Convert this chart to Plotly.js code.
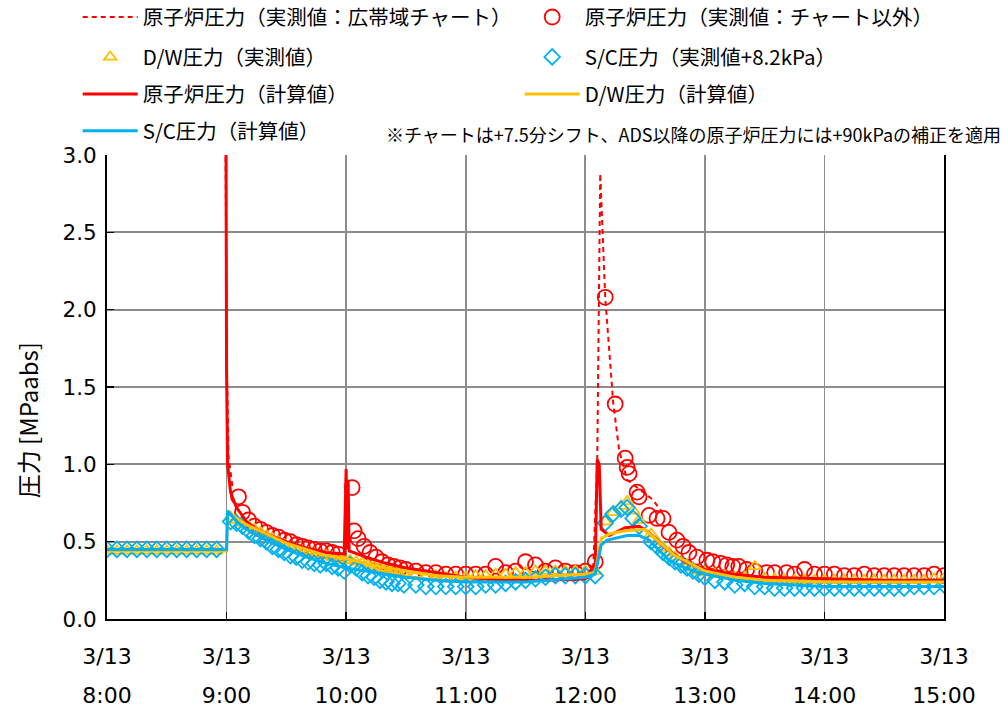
<!DOCTYPE html>
<html>
<head>
<meta charset="utf-8">
<script src="https://cdn.plot.ly/plotly-3.0.1.min.js"></script>
<style>
  html, body { margin: 0; padding: 0; background: #ffffff; }
  #chart { width: 1008px; height: 711px; }
</style>
</head>
<body>
<div id="chart"></div>
<script>
// ---- axis ticks ----
const hourTicks  = ['08:00','09:00','10:00','11:00','12:00','13:00','14:00','15:00'];
const dateLabels = ['3/13','3/13','3/13','3/13','3/13','3/13','3/13','3/13'];
const timeLabels = ['8:00','9:00','10:00','11:00','12:00','13:00','14:00','15:00'];

// ---- reactor pressure, wide-range chart (MPa abs) ----
const tChart = ['08:58','09:00','09:01','09:03','09:04',
                '12:04','12:06','12:07:30','12:10','12:14','12:17','12:21','12:34','12:38'];
const rxChart = [7.0, 1.75, 1.05, 0.85, null,
                 0.33, 1.03, 2.88, 2.08, 1.40, 1.09, 0.90, 0.77, 0.70];

// ---- reactor pressure, other records (MPa abs) ----
const tRxMeas = ['09:06','09:08','09:11','09:14','09:17','09:20','09:23','09:26','09:29','09:32',
                 '09:35','09:38','09:41','09:44','09:47','09:50','09:53','09:56',
                 '10:03','10:04','10:06','10:09','10:12','10:15','10:18','10:21','10:24','10:27','10:30',
                 '10:35','10:40','10:45','10:50','10:55','11:00','11:05','11:10','11:15','11:20',
                 '11:25','11:30','11:35','11:40','11:45','11:50','11:55','12:00','12:05',
                 '12:10','12:15','12:20','12:21','12:22','12:26','12:27','12:32','12:36','12:39',
                 '12:42','12:46','12:49','12:52','12:56','13:01','13:04','13:08','13:11','13:14',
                 '13:17','13:21','13:25','13:31','13:35','13:41','13:45','13:50','13:55','14:00',
                 '14:05','14:10','14:15','14:20','14:25','14:30','14:35','14:40','14:45','14:50',
                 '14:55','15:00'];
const rxMeas = [0.79,0.69,0.64,0.60,0.58,0.56,0.54,0.53,0.51,0.50,
                0.48,0.47,0.46,0.45,0.44,0.44,0.43,0.42,
                0.85,0.57,0.52,0.47,0.43,0.40,0.37,0.35,0.34,0.33,0.32,
                0.31,0.30,0.30,0.29,0.29,0.29,0.29,0.29,0.34,0.30,
                0.31,0.37,0.35,0.31,0.33,0.31,0.30,0.31,0.37,
                2.08,1.39,1.04,0.98,0.94,0.82,0.79,0.67,0.65,0.65,
                0.56,0.51,0.47,0.43,0.40,0.38,0.37,0.36,0.35,0.34,
                0.34,0.32,0.31,0.30,0.30,0.30,0.29,0.32,0.29,0.29,
                0.29,0.28,0.28,0.29,0.28,0.28,0.28,0.28,0.28,0.28,
                0.29,0.28];

// ---- D/W and S/C measured (same sampling times) ----
const tPcv = ['08:00','08:05','08:10','08:15','08:20','08:25','08:30','08:35','08:40','08:45','08:50','08:55',
              '09:02','09:05','09:08','09:11','09:14','09:17','09:20','09:23','09:26','09:29',
              '09:32','09:35','09:38','09:41','09:44','09:47','09:50','09:53','09:56','09:59',
              '10:02','10:05','10:08','10:11','10:14','10:17','10:20','10:23','10:26','10:29',
              '10:35','10:40','10:45','10:50','10:55','11:00','11:05','11:10','11:15','11:20',
              '11:25','11:30','11:35','11:40','11:45','11:50','11:55','12:00','12:05',
              '12:10','12:14','12:18','12:21','12:24','12:27','12:33','12:36','12:39','12:42',
              '12:45','12:48','12:51','12:54','12:57',
              '13:00','13:05','13:10','13:15','13:20','13:25','13:30','13:35','13:40','13:45',
              '13:50','13:55','14:00','14:05','14:10','14:15','14:20','14:25','14:30','14:35',
              '14:40','14:45','14:50','14:55','15:00'];
const dwMeas = [0.44,0.44,0.44,0.44,0.44,0.44,0.44,0.44,0.44,0.44,0.44,0.44,
                0.66,0.64,0.62,0.60,0.58,0.56,0.54,0.52,0.50,0.48,
                0.46,0.45,0.44,0.43,0.42,0.41,0.41,0.40,0.39,0.38,
                0.38,0.37,0.36,0.35,0.34,0.33,0.32,0.31,0.30,0.30,
                0.29,0.28,0.28,0.27,0.27,0.27,0.28,0.28,0.29,0.29,
                0.30,0.30,0.31,0.31,0.31,0.31,0.31,0.31,0.31,
                0.63,0.69,0.73,0.76,0.70,0.64,0.55,0.50,0.46,0.43,
                0.40,0.37,0.35,0.33,0.31,
                0.30,0.29,0.28,0.27,0.27,0.34,0.26,0.26,0.25,0.25,
                0.25,0.25,0.25,0.25,0.25,0.25,0.25,0.25,0.25,0.25,
                0.25,0.25,0.25,0.26,0.26];
const scMeas = [0.45,0.45,0.45,0.45,0.45,0.45,0.45,0.45,0.45,0.45,0.45,0.45,
                0.63,0.62,0.60,0.57,0.54,0.52,0.50,0.47,0.45,0.43,
                0.41,0.40,0.38,0.37,0.36,0.35,0.36,0.34,0.33,0.31,
                0.35,0.33,0.30,0.28,0.27,0.25,0.24,0.23,0.23,0.22,
                0.22,0.21,0.21,0.21,0.21,0.21,0.21,0.22,0.22,0.23,
                0.24,0.25,0.26,0.27,0.28,0.28,0.28,0.28,0.28,
                0.62,0.68,0.71,0.72,0.65,0.60,0.50,0.47,0.43,0.40,
                0.37,0.35,0.33,0.31,0.29,
                0.27,0.25,0.24,0.22,0.23,0.21,0.21,0.20,0.20,0.20,
                0.20,0.20,0.20,0.20,0.20,0.20,0.20,0.20,0.20,0.20,
                0.20,0.21,0.21,0.21,0.22];

// ---- calculated ----
const tRxCalc = ['08:00','08:59','09:00','09:00:30','09:02','09:05','09:10','09:15','09:20','09:30',
                 '09:40','09:50','09:59','10:00','10:00:30','10:01','10:01:30','10:10','10:20','10:30',
                 '10:45','11:00','11:20','11:40','12:00','12:05','12:06','12:07','12:08','12:12',
                 '12:20','12:27','12:32','12:40','12:50','13:00','13:15','13:30','14:00','14:30','15:00'];
const rxCalc = [7.0,7.0,1.6,1.0,0.82,0.72,0.63,0.58,0.55,0.50,
                0.46,0.43,0.42,0.97,0.45,0.90,0.44,0.40,0.36,0.33,
                0.30,0.27,0.25,0.25,0.26,0.36,1.03,1.00,0.58,0.54,
                0.59,0.60,0.56,0.46,0.37,0.32,0.29,0.27,0.26,0.25,0.25];

const tDwCalc = ['08:00','09:00','09:00:30','09:05','09:10','09:20','09:30','09:40','09:50','10:00',
                 '10:10','10:20','10:30','10:45','11:00','11:30','12:00','12:05','12:08','12:12',
                 '12:20','12:30','12:35','12:45','13:00','13:15','13:30','14:00','15:00'];
const dwCalc = [0.44,0.44,0.69,0.65,0.61,0.55,0.49,0.45,0.41,0.39,
                0.36,0.33,0.31,0.28,0.27,0.27,0.29,0.30,0.52,0.55,
                0.57,0.58,0.52,0.41,0.31,0.27,0.25,0.24,0.24];

const tScCalc = ['08:00','09:00','09:00:30','09:05','09:10','09:20','09:30','09:40','09:50','10:00',
                 '10:10','10:20','10:30','10:45','11:00','11:30','12:00','12:05','12:08','12:11',
                 '12:21','12:27','12:32','12:42','12:50','12:57','13:15','13:30','14:00','15:00'];
const scCalc = [0.45,0.45,0.70,0.63,0.58,0.51,0.45,0.40,0.36,0.33,
                0.31,0.29,0.27,0.25,0.24,0.24,0.27,0.29,0.48,0.51,
                0.54,0.54,0.51,0.38,0.33,0.30,0.25,0.23,0.21,0.21];

// ---- series names ----
const names = [
  '原子炉圧力（実測値：広帯域チャート）',
  '原子炉圧力（実測値：チャート以外）',
  'D/W圧力（実測値）',
  'S/C圧力（実測値+8.2kPa）',
  '原子炉圧力（計算値）',
  'D/W圧力（計算値）',
  'S/C圧力（計算値）'
];
const note = '※チャートは+7.5分シフト、ADS以降の原子炉圧力には+90kPaの補正を適用';

const RED = '#FF0000', ORANGE = '#FFC000', BLUE = '#00B0F0';
const day = t => '2011-03-13 ' + t;
const dates = arr => arr.map(day);

const traces = [
  { x: dates(tChart), y: rxChart, name: names[0], mode: 'lines', connectgaps: false,
    line: { color: RED, width: 2, dash: '5px,4px' }, legend: 'legend' },
  { x: dates(tRxMeas), y: rxMeas, name: names[1], mode: 'markers',
    marker: { symbol: 'circle-open', size: 15, color: RED, line: { width: 1.8, color: RED } }, legend: 'legend' },
  { x: dates(tPcv), y: dwMeas, name: names[2], mode: 'markers',
    marker: { symbol: 'triangle-up-open', size: 11, color: ORANGE, line: { width: 1.8, color: ORANGE } }, legend: 'legend2' },
  { x: dates(tPcv), y: scMeas, name: names[3], mode: 'markers',
    marker: { symbol: 'diamond-open', size: 12, color: BLUE, line: { width: 1.8, color: BLUE } }, legend: 'legend2' },
  { x: dates(tRxCalc), y: rxCalc, name: names[4], mode: 'lines',
    line: { color: RED, width: 3 }, legend: 'legend3' },
  { x: dates(tDwCalc), y: dwCalc, name: names[5], mode: 'lines',
    line: { color: ORANGE, width: 3 }, legend: 'legend3' },
  { x: dates(tScCalc), y: scCalc, name: names[6], mode: 'lines', xaxis: 'x2',
    line: { color: BLUE, width: 3 }, legend: 'legend4' }
];

const FONT = '"Noto Sans CJK JP", "Noto Sans", sans-serif';
const TICKFONT_X = { family: '"DejaVu Sans", "Noto Sans CJK JP", sans-serif', size: 22, color: '#000' };
const TICKFONT_Y = { family: '"DejaVu Sans", "Noto Sans CJK JP", sans-serif', size: 21.5, color: '#000' };
const xRange = [day('08:00'), day('15:00')];
const legendBase = {
  orientation: 'h', xanchor: 'left', yanchor: 'middle',
  entrywidth: 372, entrywidthmode: 'pixels', itemwidth: 55,
  font: { family: FONT, size: 20.5, color: '#000' }, bgcolor: 'rgba(0,0,0,0)',
  borderwidth: 0, traceorder: 'normal'
};

const layout = {
  width: 1008, height: 711,
  margin: { l: 107, r: 64, t: 155, b: 92, autoexpand: false },
  paper_bgcolor: '#ffffff', plot_bgcolor: '#ffffff',
  font: { family: FONT, color: '#000' },
  showlegend: true,
  xaxis: {
    type: 'date', range: xRange,
    tickvals: dates(hourTicks), ticktext: dateLabels,
    tickfont: TICKFONT_X, ticklabelstandoff: 17,
    showgrid: true, gridcolor: '#8C8C8C', gridwidth: 1.8,
    showline: true, linecolor: '#000', linewidth: 2,
    ticks: 'inside', ticklen: 7, tickcolor: '#000', tickwidth: 1.5,
    zeroline: false, fixedrange: true
  },
  xaxis2: {
    type: 'date', range: xRange, overlaying: 'x', anchor: 'y', side: 'bottom',
    tickvals: dates(hourTicks), ticktext: timeLabels,
    tickfont: TICKFONT_X, ticklabelstandoff: 61,
    showgrid: false, showline: false, ticks: '', zeroline: false, fixedrange: true
  },
  yaxis: {
    range: [0, 3], dtick: 0.5, tick0: 0, tickformat: '.1f',
    tickfont: TICKFONT_Y, ticklabelstandoff: 4,
    showgrid: true, gridcolor: '#8C8C8C', gridwidth: 1.8,
    showline: true, linecolor: '#000', linewidth: 2, mirror: true,
    ticks: 'inside', ticklen: 7, tickcolor: '#000', tickwidth: 1.5,
    zeroline: false, fixedrange: true
  },
  legend:  Object.assign({}, legendBase, { x: -0.035, y: 1.297 }),
  legend2: Object.assign({}, legendBase, { x: -0.035, y: 1.211 }),
  legend3: Object.assign({}, legendBase, { x: -0.035, y: 1.131 }),
  legend4: Object.assign({}, legendBase, { x: -0.035, y: 1.052 }),
  annotations: [
    { text: '圧力 [MPaabs]', textangle: -90, xref: 'paper', yref: 'paper',
      x: -0.094, y: 0.429, xanchor: 'center', yanchor: 'middle', showarrow: false,
      font: { family: FONT, size: 24, color: '#000' } },
    { text: note, xref: 'paper', yref: 'paper', x: 1.0705, y: 1.045,
      xanchor: 'right', yanchor: 'middle', showarrow: false,
      font: { family: FONT, size: 18, color: '#000' } }
  ]
};

Plotly.newPlot('chart', traces, layout, { displayModeBar: false, staticPlot: true });
</script>
</body>
</html>
